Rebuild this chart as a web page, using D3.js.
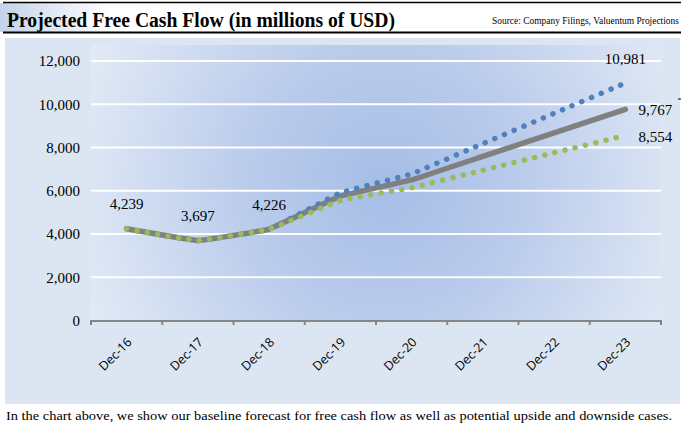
<!DOCTYPE html>
<html><head><meta charset="utf-8">
<script src="https://cdn.jsdelivr.net/npm/d3@7"></script>
<style>html,body{margin:0;padding:0;background:#fff;}svg{display:block;}</style>
</head><body>
<svg id="c" width="687" height="442"></svg>
<script>
const categories = ["Dec-16","Dec-17","Dec-18","Dec-19","Dec-20","Dec-21","Dec-22","Dec-23"];
const baseline = [4239,3697,4226,5750,6500,7590,8680,9767];
const upside   = [4239,3697,4226,5900,6780,8180,9580,10981];
const downside = [4239,3697,4226,5550,6140,6945,7755,8554];
const yTicks = [0,2000,4000,6000,8000,10000,12000];
const labelsAbove = [{i:0,s:"baseline"},{i:1,s:"baseline"},{i:2,s:"baseline"},{i:7,s:"upside"}];
const labelsRight = [{i:7,s:"baseline"},{i:7,s:"downside"}];
const seriesMap = {baseline, upside, downside};

const svg = d3.select("#c");
const defs = svg.append("defs");
const hg = defs.append("linearGradient").attr("id","hg").attr("x1","0").attr("x2","1").attr("y1","0").attr("y2","0");
hg.append("stop").attr("offset","0").attr("stop-color","#c3d3ea");
hg.append("stop").attr("offset","0.16").attr("stop-color","#ffffff");
hg.append("stop").attr("offset","1").attr("stop-color","#ffffff");
const rg = defs.append("radialGradient").attr("id","rg").attr("gradientUnits","userSpaceOnUse")
  .attr("cx",385).attr("cy",185).attr("r",330);
rg.append("stop").attr("offset","0").attr("stop-color","#a5bde6");
rg.append("stop").attr("offset","0.45").attr("stop-color","#bccdec");
rg.append("stop").attr("offset","1").attr("stop-color","#e4ebf6");

// header
svg.append("rect").attr("x",0).attr("y",3).attr("width",687).attr("height",29).attr("fill","url(#hg)");
svg.append("line").attr("x1",3).attr("x2",681).attr("y1",2.5).attr("y2",2.5).attr("stroke","#000").attr("stroke-width",1.5);
svg.append("line").attr("x1",3).attr("x2",681).attr("y1",32.5).attr("y2",32.5).attr("stroke","#000").attr("stroke-width",2);
svg.append("text").attr("x",7).attr("y",26.5).attr("font-family","'Liberation Serif','Times New Roman',serif")
  .attr("font-weight","bold").attr("font-size",20).attr("textLength",388).attr("lengthAdjust","spacingAndGlyphs")
  .attr("fill","#000").text("Projected Free Cash Flow (in millions of USD)");
svg.append("text").attr("x",492).attr("y",24).attr("font-family","'Liberation Serif','Times New Roman',serif")
  .attr("font-size",9.5).attr("textLength",187).attr("lengthAdjust","spacingAndGlyphs")
  .attr("fill","#000").text("Source: Company Filings, Valuentum Projections");

// panel
svg.append("rect").attr("x",5).attr("y",38).attr("width",675).attr("height",366).attr("fill","#dce6f2");

const x = d3.scaleBand().domain(categories).range([91,661]).padding(0);
const y = d3.scaleLinear().domain([0,12000]).range([320.5,61]);
const cx = c => x(c) + x.bandwidth()/2;

svg.append("rect").attr("x",91).attr("y",45).attr("width",570).attr("height",276).attr("fill","url(#rg)");

// gridlines
svg.append("g").selectAll("line").data(yTicks.filter(d=>d>0)).join("line")
  .attr("x1",91).attr("x2",661).attr("y1",d=>y(d)).attr("y2",d=>y(d))
  .attr("stroke","#fff").attr("stroke-width",2);

// y axis labels
const yAxis = d3.axisLeft(y).tickValues(yTicks).tickFormat(d3.format(",")).tickSize(0).tickPadding(0);
const gy = svg.append("g").attr("transform","translate(80,0)").call(yAxis);
gy.select(".domain").remove();
gy.selectAll("text").attr("font-family","'Liberation Serif','Times New Roman',serif").attr("font-size",15).attr("fill","#000");

// x axis
const xAxis = d3.axisBottom(x).tickSize(0).tickPadding(0);
const gx = svg.append("g").attr("transform","translate(0,321)").call(xAxis);
gx.select(".domain").attr("stroke","#868686").attr("stroke-width",2).attr("d","M91,0H661");
gx.selectAll("text").attr("font-family","'Open Sans','Liberation Sans',sans-serif").attr("font-size",12.5).attr("fill","#000")
  .attr("text-anchor","end").attr("dy",0).attr("y",0)
  .attr("transform","translate(6,22) rotate(-45)");
const boundaries = categories.map(c=>x(c)).concat([661]);
svg.append("g").selectAll("line").data(boundaries).join("line")
  .attr("x1",d=>d).attr("x2",d=>d).attr("y1",320).attr("y2",325)
  .attr("stroke","#868686").attr("stroke-width",2);

// lines
const line = d3.line().x((d,i)=>cx(categories[i])).y(d=>y(d)).curve(d3.curveCardinal.tension(0.8));
svg.append("path").attr("d",line(baseline)).attr("fill","none").attr("stroke","#808080").attr("stroke-width",5.5).attr("stroke-linecap","round");
svg.append("path").attr("d",line(upside)).attr("fill","none").attr("stroke","#4f81bd").attr("stroke-width",5.5)
  .attr("stroke-linecap","round").attr("stroke-dasharray","0.1 10.4");
svg.append("path").attr("d",line(downside)).attr("fill","none").attr("stroke","#9bbb59").attr("stroke-width",5.5)
  .attr("stroke-linecap","round").attr("stroke-dasharray","0.1 10.4");

// data labels
const fmt = d3.format(",");
svg.append("g").selectAll("text").data(labelsAbove).join("text")
  .attr("x",d=>cx(categories[d.i])).attr("y",d=>y(seriesMap[d.s][d.i])-19.5)
  .attr("text-anchor","middle").attr("font-family","'Liberation Serif','Times New Roman',serif").attr("font-size",15)
  .attr("fill","#000").text(d=>fmt(seriesMap[d.s][d.i]));
svg.append("g").selectAll("text").data(labelsRight).join("text")
  .attr("x",d=>cx(categories[d.i])+13).attr("y",d=>y(seriesMap[d.s][d.i])+6)
  .attr("text-anchor","start").attr("font-family","'Liberation Serif','Times New Roman',serif").attr("font-size",15)
  .attr("fill","#000").text(d=>fmt(seriesMap[d.s][d.i]));

// small mark at right edge
svg.append("line").attr("x1",678).attr("x2",681).attr("y1",99).attr("y2",99).attr("stroke","#000").attr("stroke-width",1);

// caption
svg.append("text").attr("x",6).attr("y",420).attr("font-family","'Liberation Serif','Times New Roman',serif")
  .attr("font-size",13).attr("textLength",666).attr("lengthAdjust","spacingAndGlyphs").attr("fill","#000")
  .text("In the chart above, we show our baseline forecast for free cash flow as well as potential upside and downside cases.");
</script>
</body></html>
